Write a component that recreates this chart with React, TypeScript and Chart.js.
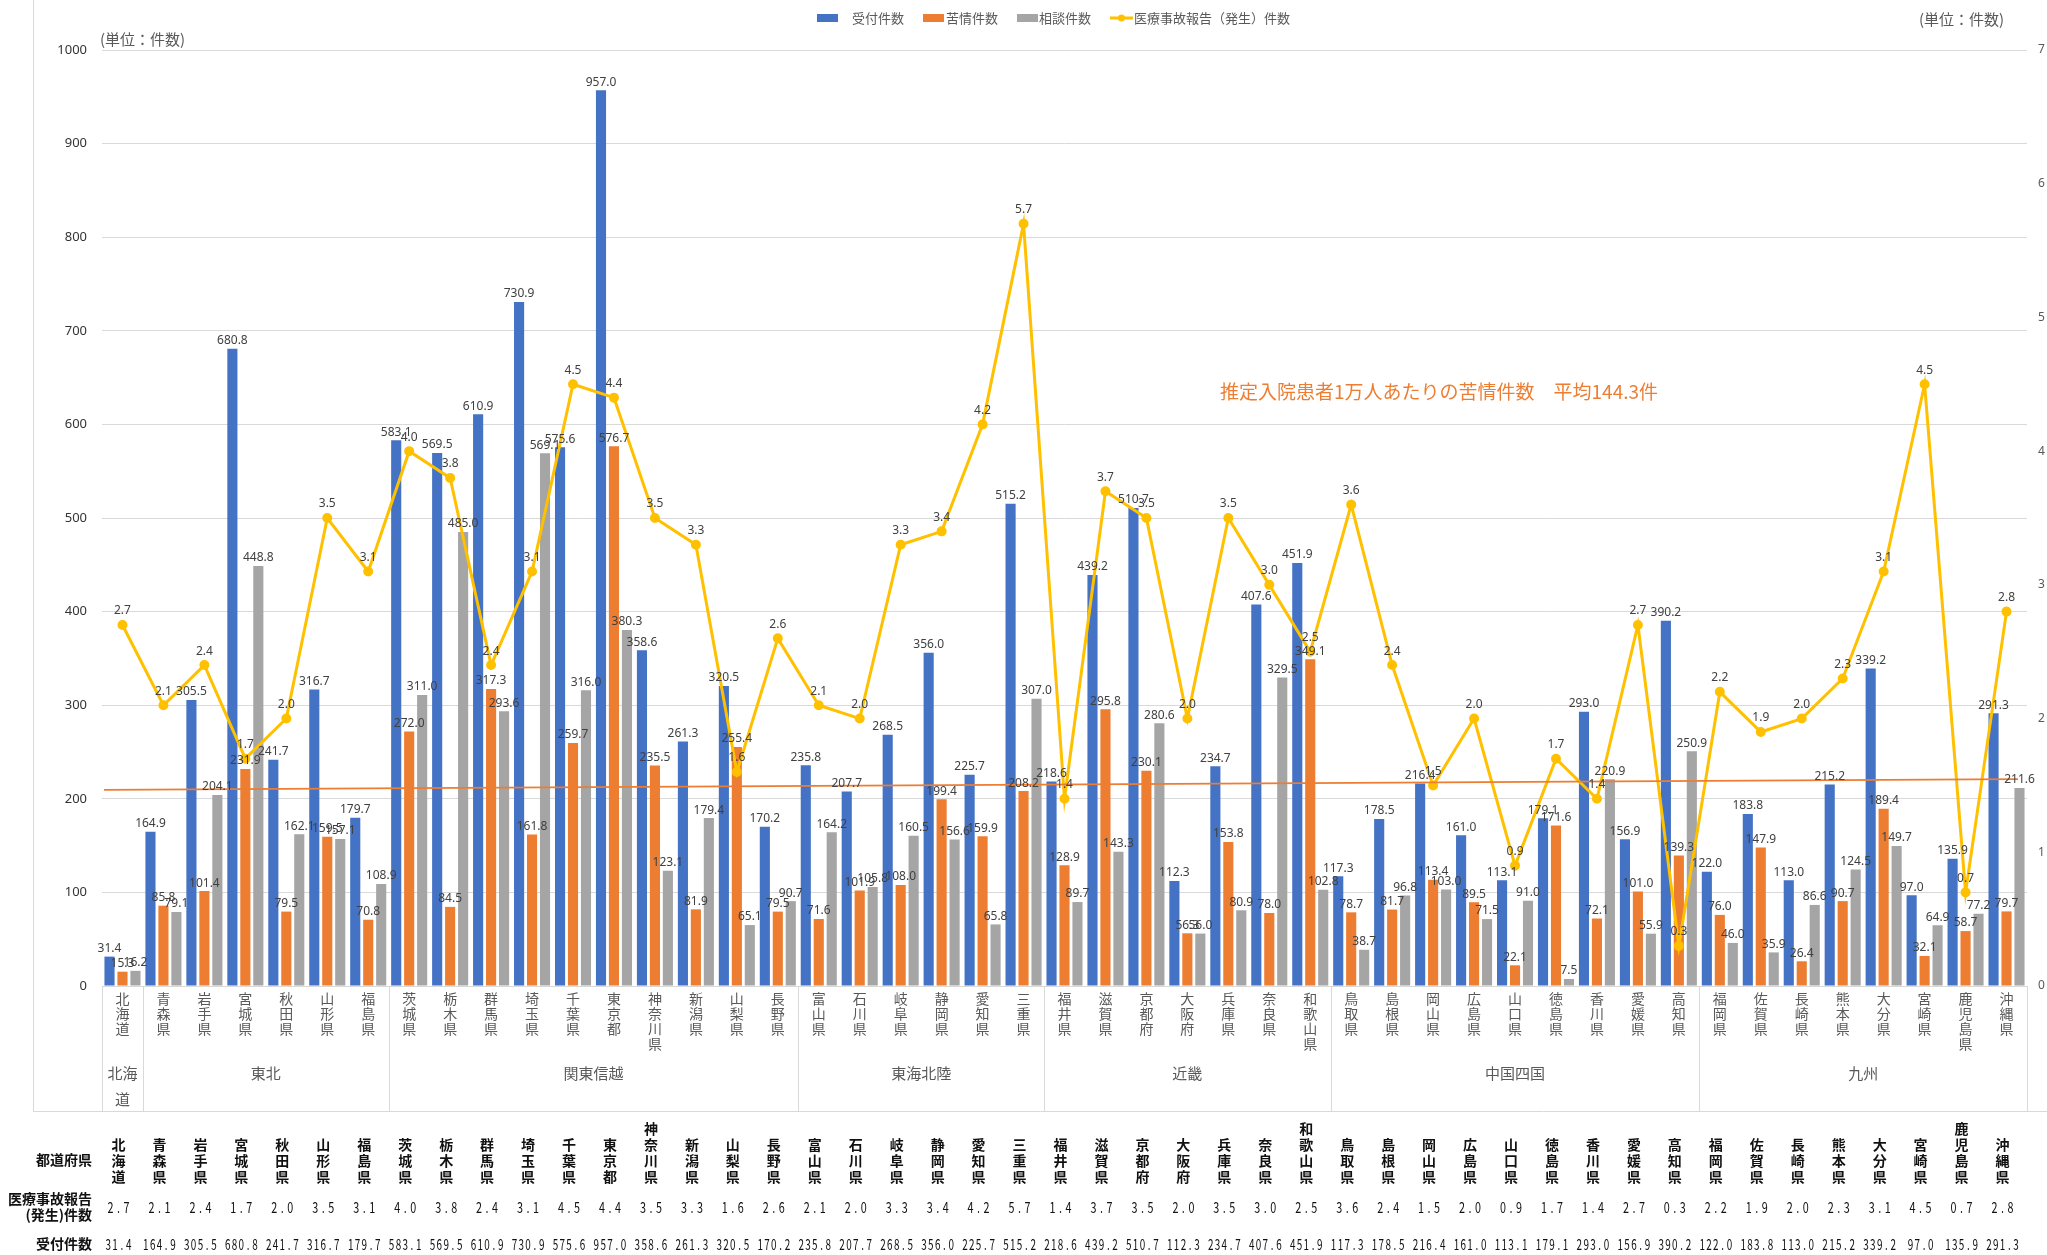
import React, { useEffect, useRef } from 'react';
import { Chart, registerables } from 'chart.js';

Chart.register(...registerables);

// ---------- data ----------
const prefectures = ['北海道','青森県','岩手県','宮城県','秋田県','山形県','福島県','茨城県','栃木県','群馬県','埼玉県','千葉県','東京都','神奈川県','新潟県','山梨県','長野県','富山県','石川県','岐阜県','静岡県','愛知県','三重県','福井県','滋賀県','京都府','大阪府','兵庫県','奈良県','和歌山県','鳥取県','島根県','岡山県','広島県','山口県','徳島県','香川県','愛媛県','高知県','福岡県','佐賀県','長崎県','熊本県','大分県','宮崎県','鹿児島県','沖縄県'];

const regionNames = ['北海道','東北','関東信越','東海北陸','近畿','中国四国','九州'];
const regionSizes = [1, 6, 10, 6, 7, 9, 8];

const receptions = [31.4,164.9,305.5,680.8,241.7,316.7,179.7,583.1,569.5,610.9,730.9,575.6,957.0,358.6,261.3,320.5,170.2,235.8,207.7,268.5,356.0,225.7,515.2,218.6,439.2,510.7,112.3,234.7,407.6,451.9,117.3,178.5,216.4,161.0,113.1,179.1,293.0,156.9,390.2,122.0,183.8,113.0,215.2,339.2,97.0,135.9,291.3];
const complaints = [15.3,85.8,101.4,231.9,79.5,159.5,70.8,272.0,84.5,317.3,161.8,259.7,576.7,235.5,81.9,255.4,79.5,71.6,101.9,108.0,199.4,159.9,208.2,128.9,295.8,230.1,56.3,153.8,78.0,349.1,78.7,81.7,113.4,89.5,22.1,171.6,72.1,101.0,139.3,76.0,147.9,26.4,90.7,189.4,32.1,58.7,79.7];
const consultations = [16.2,79.1,204.1,448.8,162.1,157.1,108.9,311.0,485.0,293.6,569.1,316.0,380.3,123.1,179.4,65.1,90.7,164.2,105.8,160.5,156.6,65.8,307.0,89.7,143.3,280.6,56.0,80.9,329.5,102.8,38.7,96.8,103.0,71.5,91.0,7.5,220.9,55.9,250.9,46.0,35.9,86.6,124.5,149.7,64.9,77.2,211.6];
const accidents = [2.7,2.1,2.4,1.7,2.0,3.5,3.1,4.0,3.8,2.4,3.1,4.5,4.4,3.5,3.3,1.6,2.6,2.1,2.0,3.3,3.4,4.2,5.7,1.4,3.7,3.5,2.0,3.5,3.0,2.5,3.6,2.4,1.5,2.0,0.9,1.7,1.4,2.7,0.3,2.2,1.9,2.0,2.3,3.1,4.5,0.7,2.8];

const trendStart = 209.5;
const trendEnd = 221.0;

const seriesNames = ['受付件数', '苦情件数', '相談件数', '医療事故報告（発生）件数'];
const unitLabel = '(単位：件数)';
const annotation = '推定入院患者1万人あたりの苦情件数　平均144.3件';
const tableRowLabels = ['都道府県', '医療事故報告', '(発生)件数', '受付件数'];

const leftMax = 1000;
const leftStep = 100;
const rightMax = 7;
const rightStep = 1;

// ---------- styles ----------
const BLUE = '#4472C4';
const ORANGE = '#ED7D31';
const GRAY = '#A5A5A5';
const YELLOW = '#FFC000';
const JP = '"Noto Sans CJK JP", "Noto Sans", sans-serif';
const NUM = '"Noto Sans", "Liberation Sans", sans-serif';

function drawMono(ctx: CanvasRenderingContext2D, text: string, cx: number, y: number, pitch: number, sx: number) {
  const chars = [...text];
  const total = chars.length * pitch;
  let x = cx - total / 2 + pitch / 2;
  for (const c of chars) {
    ctx.save();
    ctx.translate(x, y);
    ctx.scale(sx, 1);
    ctx.fillText(c, 0, 0);
    ctx.restore();
    x += pitch;
  }
}

const overlay = {
  id: 'overlay',
  afterDatasetsDraw(chart: any) {
    const ctx: CanvasRenderingContext2D = chart.ctx;
    const xs = chart.scales.x;
    const ys = chart.scales.y;
    const area = chart.chartArea;
    const n = prefectures.length;
    const catW = (area.right - area.left) / n;

    ctx.save();
    // trend line
    ctx.strokeStyle = ORANGE;
    ctx.lineWidth = 1.8;
    ctx.beginPath();
    ctx.moveTo(area.left + 2, ys.getPixelForValue(trendStart));
    ctx.lineTo(area.right - 9, ys.getPixelForValue(trendEnd));
    ctx.stroke();

    // data labels for bars
    ctx.font = `12px ${NUM}`;
    ctx.fillStyle = '#404040';
    ctx.textAlign = 'center';
    ctx.textBaseline = 'bottom';
    for (let d = 0; d < 3; d++) {
      const meta = chart.getDatasetMeta(d);
      const vals = chart.data.datasets[d].data as number[];
      meta.data.forEach((el: any, i: number) => {
        ctx.fillText(vals[i].toFixed(1), el.x, el.y - 2);
      });
    }
    // data labels for line
    {
      const meta = chart.getDatasetMeta(3);
      const vals = chart.data.datasets[3].data as number[];
      meta.data.forEach((el: any, i: number) => {
        ctx.fillText(vals[i].toFixed(1), el.x, el.y - 8);
      });
    }

    // frame lines
    ctx.strokeStyle = '#D9D9D9';
    ctx.lineWidth = 1;
    ctx.beginPath();
    ctx.moveTo(33.5, 0);
    ctx.lineTo(33.5, 1111.5);
    ctx.lineTo(2047, 1111.5);
    ctx.stroke();

    // region separators
    let idx = 0;
    const bounds: number[] = [0];
    regionSizes.forEach((s) => { idx += s; bounds.push(idx); });
    ctx.beginPath();
    bounds.forEach((b) => {
      const x = Math.round(area.left + b * catW) + 0.5;
      ctx.moveTo(x, area.bottom);
      ctx.lineTo(x, 1111.5);
    });
    ctx.stroke();

    // prefecture labels (vertical)
    ctx.fillStyle = '#595959';
    ctx.font = `14px ${JP}`;
    ctx.textBaseline = 'middle';
    ctx.textAlign = 'center';
    prefectures.forEach((p, i) => {
      const cx = xs.getPixelForValue(i);
      [...p].forEach((c, k) => ctx.fillText(c, cx, 999 + k * 15));
    });

    // region labels
    ctx.font = `15px ${JP}`;
    regionNames.forEach((r, g) => {
      const x0 = area.left + bounds[g] * catW;
      const x1 = area.left + bounds[g + 1] * catW;
      const w = x1 - x0;
      const cx = (x0 + x1) / 2;
      const tw = ctx.measureText(r).width;
      if (tw > w - 6) {
        const chars = [...r];
        const per = Math.max(1, Math.floor((w - 6) / 15));
        const lines: string[] = [];
        for (let k = 0; k < chars.length; k += per) lines.push(chars.slice(k, k + per).join(''));
        lines.forEach((l, k) => ctx.fillText(l, cx, 1073 + k * 26));
      } else {
        ctx.fillText(r, cx, 1073);
      }
    });

    // unit labels
    ctx.font = `15px ${JP}`;
    ctx.textAlign = 'left';
    ctx.fillText(unitLabel, 100, 39);
    ctx.fillText(unitLabel, 1919, 19);

    // annotation
    ctx.fillStyle = ORANGE;
    ctx.font = `19px ${JP}`;
    ctx.fillText(annotation, 1220, 392);

    // legend
    ctx.font = `13px ${JP}`;
    ctx.fillStyle = '#595959';
    const ly = 18;
    const items = [
      { color: BLUE, box: 817, text: 852 },
      { color: ORANGE, box: 923, text: 946 },
      { color: GRAY, box: 1017, text: 1039 },
    ];
    items.forEach((it, k) => {
      ctx.fillStyle = it.color;
      ctx.fillRect(it.box, ly - 4, 21, 8);
      ctx.fillStyle = '#595959';
      ctx.fillText(seriesNames[k], it.text, ly);
    });
    ctx.strokeStyle = YELLOW;
    ctx.lineWidth = 3;
    ctx.beginPath();
    ctx.moveTo(1110, ly);
    ctx.lineTo(1133, ly);
    ctx.stroke();
    ctx.fillStyle = YELLOW;
    ctx.beginPath();
    ctx.arc(1121.5, ly, 3.5, 0, Math.PI * 2);
    ctx.fill();
    ctx.fillStyle = '#595959';
    ctx.fillText(seriesNames[3], 1134, ly);

    // table
    ctx.fillStyle = '#111';
    ctx.font = `bold 14px ${JP}`;
    ctx.textAlign = 'right';
    ctx.fillText(tableRowLabels[0], 92, 1160);
    ctx.fillText(tableRowLabels[1], 92, 1199);
    ctx.fillText(tableRowLabels[2], 92, 1215);
    ctx.fillText(tableRowLabels[3], 92, 1244);
    ctx.textAlign = 'center';
    prefectures.forEach((p, i) => {
      const cx = xs.getPixelForValue(i) - 4;
      const chars = [...p];
      chars.forEach((c, k) => ctx.fillText(c, cx, 1177 - (chars.length - 1 - k) * 16));
    });
    ctx.font = `15px ${JP}`;
    accidents.forEach((v, i) => {
      drawMono(ctx, v.toFixed(1), xs.getPixelForValue(i) - 4, 1207, 8, 0.72);
    });
    receptions.forEach((v, i) => {
      drawMono(ctx, v.toFixed(1), xs.getPixelForValue(i) - 4, 1244, 6.8, 0.66);
    });
    ctx.restore();
  },
};

export default function App() {
  const ref = useRef<HTMLCanvasElement>(null);
  useEffect(() => {
    document.body.style.margin = '0';
    const barCommon = { categoryPercentage: 0.95, barPercentage: 0.78, order: 2, yAxisID: 'y' };
    const chart = new Chart(ref.current as HTMLCanvasElement, {
      type: 'bar',
      data: {
        labels: prefectures,
        datasets: [
          { label: seriesNames[0], data: receptions, backgroundColor: BLUE, ...barCommon } as any,
          { label: seriesNames[1], data: complaints, backgroundColor: ORANGE, ...barCommon } as any,
          { label: seriesNames[2], data: consultations, backgroundColor: GRAY, ...barCommon } as any,
          {
            type: 'line',
            label: seriesNames[3],
            data: accidents,
            yAxisID: 'y1',
            borderColor: YELLOW,
            backgroundColor: YELLOW,
            borderWidth: 3,
            pointRadius: 3.5,
            pointBackgroundColor: YELLOW,
            pointBorderColor: YELLOW,
            tension: 0,
            order: 0,
          } as any,
        ],
      },
      options: {
        responsive: false,
        animation: false,
        devicePixelRatio: 1,
        layout: { padding: { top: 50, bottom: 144, left: 0, right: 0 } },
        plugins: { legend: { display: false }, tooltip: { enabled: false } },
        scales: {
          x: {
            grid: { display: false },
            border: { display: false },
            ticks: { display: false },
            afterFit: (s: any) => { s.height = 125; },
          },
          y: {
            position: 'left',
            min: 0,
            max: leftMax,
            ticks: {
              stepSize: leftStep,
              padding: 15,
              color: '#333',
              font: { size: 13, family: NUM },
              callback: (v: any) => String(v),
            },
            grid: { color: '#D9D9D9', drawTicks: false },
            border: { display: false },
            afterFit: (s: any) => { s.width = 102; },
          },
          y1: {
            position: 'right',
            min: 0,
            max: rightMax,
            ticks: {
              stepSize: rightStep,
              padding: 11,
              color: '#595959',
              font: { size: 12, family: NUM },
              callback: (v: any) => String(v),
            },
            grid: { display: false, drawTicks: false },
            border: { display: false },
            afterFit: (s: any) => { s.width = 20; },
          },
        },
      } as any,
      plugins: [overlay],
    });
    return () => chart.destroy();
  }, []);
  return (
    <div style={{ position: 'absolute', left: 0, top: 0, width: 2047, height: 1255, background: '#fff' }}>
      <canvas ref={ref} width={2047} height={1255} style={{ display: 'block' }} />
    </div>
  );
}
